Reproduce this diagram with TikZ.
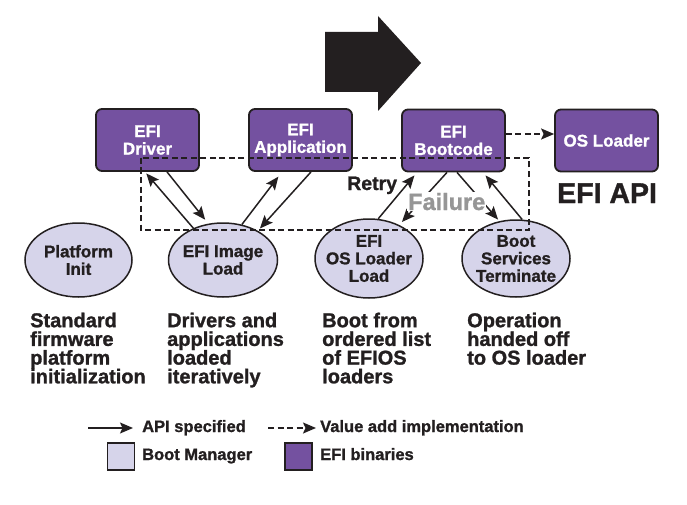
\documentclass[tikz,border=0pt]{standalone}
\usepackage{fontspec}
\setmainfont{Liberation Sans}[BoldFeatures={FakeBold=1.2}]
\usetikzlibrary{shapes.geometric,arrows.meta}
\definecolor{efipurple}{RGB}{116,81,160}
\definecolor{bmlav}{RGB}{214,212,234}
\definecolor{ink}{RGB}{35,31,32}
\definecolor{failgray}{RGB}{150,150,150}
\begin{document}
\begin{tikzpicture}[x=1pt,y=-1pt,
  efibox/.style={draw=ink, line width=1.8pt, fill=efipurple, rounded corners=6pt,
    minimum width=103pt, minimum height=62pt, text=white, inner sep=0pt,
    font=\bfseries\fontsize{17}{17.5}\selectfont, align=center},
  bmell/.style={ellipse, draw=ink, line width=1.5pt, fill=bmlav, inner sep=0pt},
  elltext/.style={font=\bfseries\fontsize{17}{17.5}\selectfont, text=ink, align=center, inner sep=0pt},
  api/.style={draw=ink, line width=1.5pt, -{Stealth[length=13pt,width=11pt,inset=2.5pt]}},
  vadd/.style={api, dash pattern=on 6pt off 3.5pt},
  desc/.style={anchor=north west, inner sep=0pt, align=left, text=ink,
    font=\bfseries\fontsize{20}{18.7}\selectfont},
  legtext/.style={anchor=base west, inner sep=0pt, text=ink,
    font=\bfseries\fontsize{16.5}{16.5}\selectfont},
  legsq/.style={draw=ink, line width=1.8pt, minimum size=27pt, inner sep=0pt}
]
\useasboundingbox (0,0) rectangle (687,505);
\fill[white] (0,0) rectangle (687,505);

% big arrow
\fill[ink] (325,32) -- (378,32) -- (378,16) -- (421,63) -- (378,111) -- (378,92) -- (325,92) -- cycle;

% EFI binaries
\node[efibox] (drv)  at (147.5,140)   {EFI\\Driver};
\node[efibox] (app)  at (300.5,140)   {EFI\\Application};
\node[efibox] (boot) at (453.5,140.5) {EFI\\Bootcode};
\node[efibox] (osl)  at (606.5,140.5) {OS Loader};

% boot manager ellipses
\node[bmell, minimum width=107pt, minimum height=74pt,
  label={[elltext]center:{Platform\\Init}}] (pinit) at (78.5,260) {};
\node[bmell, minimum width=109pt, minimum height=74pt,
  label={[elltext]center:{EFI Image\\Load}}] (iml) at (223,260) {};
\node[bmell, minimum width=108pt, minimum height=79pt,
  label={[elltext]center:{EFI\\OS Loader\\Load}}] (osload) at (369,258.5) {};
\node[bmell, minimum width=108pt, minimum height=77pt,
  label={[elltext]center:{Boot\\Services\\Terminate}}] (bst) at (516,258.5) {};

% connectors
\draw[api, shorten >=2pt] (iml.133) -- ([xshift=-2.5pt]drv.south);
\draw[api, shorten >=5pt] ([xshift=19.5pt]drv.south) -- (iml.112);
\draw[api, shorten >=6pt] (iml.62) -- ([xshift=-18.5pt]app.south);
\draw[api, shorten >=3pt] ([xshift=10.5pt]app.south) -- (iml.40);

\draw[api, shorten >=4pt] (osload.77) -- ([xshift=-36.5pt]boot.south);
\draw[api, shorten >=4pt] ([xshift=-6.5pt]boot.south) -- (osload.48);
\draw[api, shorten >=2pt] ([xshift=3.5pt]boot.south) -- (bst.114);
\draw[api, shorten >=4pt] (bst.81) -- ([xshift=29.5pt]boot.south);

\draw[vadd] ([yshift=6.5pt]boot.east) -- ([yshift=6.5pt]osl.west);

% labels
\node[anchor=base west, inner sep=0pt, text=ink, font=\bfseries\fontsize{19.5}{19.5}\selectfont] (retry) at (347,190) {Retry};
\node[anchor=base west, fill=white, inner sep=1pt, text=failgray, font=\bfseries\fontsize{23.5}{23.5}\selectfont] (fail) at (407,210) {Failure};
\node[anchor=base west, inner sep=0pt, text=ink, font=\bfseries\fontsize{28.5}{28.5}\selectfont] (efiapi) at (557,203) {EFI API};

% dashed region
\draw[ink, line width=2pt, dash pattern=on 6pt off 3.5pt] (141,158) rectangle (529,230);

% descriptions
\node[desc] (d1) at (30,312.5)  {Standard\\firmware\\platform\\initialization};
\node[desc] (d2) at (167,312.5) {Drivers and\\applications\\loaded\\iteratively};
\node[desc] (d3) at (322,312.5) {Boot from\\ordered list\\of EFIOS\\loaders};
\node[desc] (d4) at (467,312.5) {Operation\\handed off\\to OS loader};

% legend
\coordinate (la1) at (88,428);
\coordinate (la2) at (133,428);
\draw[api] (la1) -- (la2);
\node[legtext] (lt1) at (142,432) {API specified};
\coordinate (lb1) at (268,428);
\coordinate (lb2) at (316,428);
\draw[vadd] (lb1) -- (lb2);
\node[legtext] (lt2) at (320,432) {Value add implementation};
\node[legsq, fill=bmlav] (sq1) at (121,456.5) {};
\node[legtext] (lt3) at (142,460) {Boot Manager};
\node[legsq, fill=efipurple] (sq2) at (298.5,456.5) {};
\node[legtext] (lt4) at (320,460) {EFI binaries};
\end{tikzpicture}
\end{document}
